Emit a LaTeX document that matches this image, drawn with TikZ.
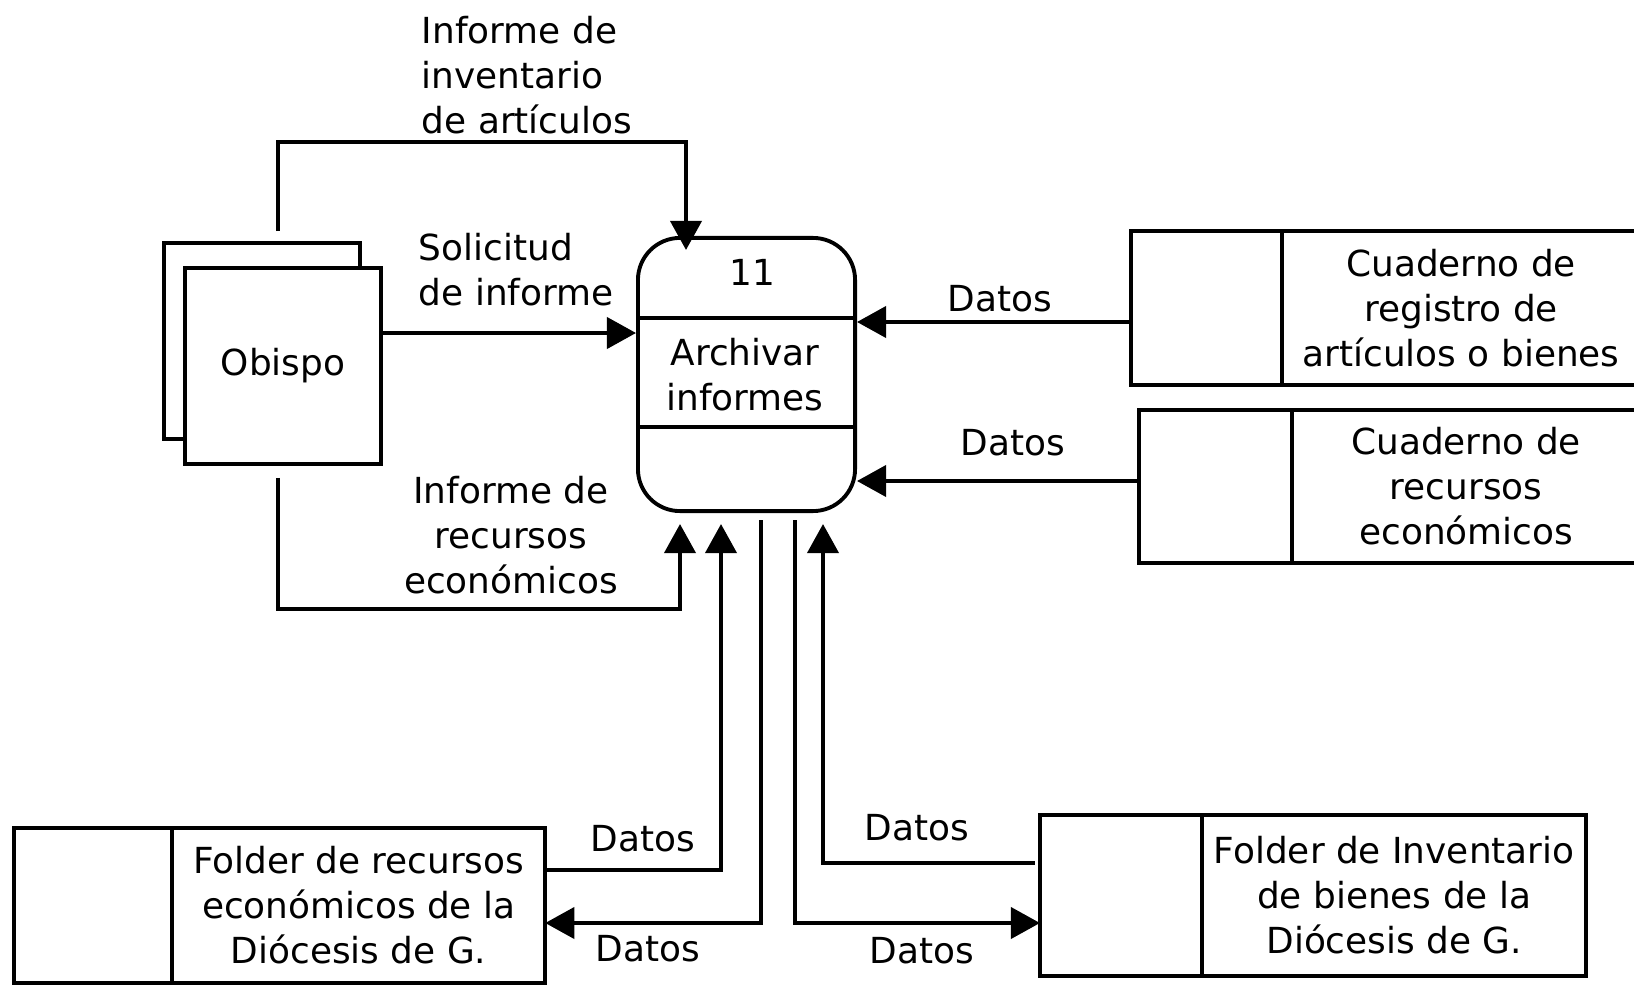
\documentclass[tikz,border=0pt]{standalone}
\usepackage{fontspec}
\setmainfont{DejaVu Sans}
\usetikzlibrary{arrows.meta, positioning, calc}
\tikzset{
  entity/.style={draw, fill=white, minimum width=1.96cm, minimum height=1.96cm},
  process/.style={draw, rounded corners=4.2mm, minimum width=2.17cm, minimum height=2.73cm},
  store/.style={draw, inner sep=0pt, outer sep=0pt, align=center},
  lbl/.style={inner sep=0pt},
  flow/.style={-{Triangle[length=2.9mm, width=3.1mm]}}
}

\begin{document}
\begin{tikzpicture}[x=0.01cm, y=-0.01cm, line width=1.1pt, font=\fontsize{10.2}{12.8}\selectfont]
    \useasboundingbox (0,0) rectangle (1634,985);
    % external entity
    \node[entity] (obispoback) at (262,341) {};
    \node[entity] (obispo) at (283,366) {Obispo};
    % process 11
    \node[process] (proc) at (746.5,374.5) {};
    \draw ($(proc.north west)+(0,82)$) -- ($(proc.north east)+(0,82)$);
    \draw ($(proc.north west)+(0,191)$) -- ($(proc.north east)+(0,191)$);
    \node (procnum) at ($(proc.north)+(5.5,36)$) {11};
    \node[align=center] (proctxt) at ($(proc.center)+(-1.5,0)$) {Archivar\\informes};
    % data stores
    \node[store, minimum width=1.51cm, minimum height=1.54cm] (cuad1id) at (1206.5,308) {};
    \node[store, minimum width=3.58cm, minimum height=1.54cm, right=0pt of cuad1id] (cuad1)
      {Cuaderno de\\registro de\\artículos o bienes};
    \node[store, minimum width=1.53cm, minimum height=1.53cm] (cuad2id) at (1215.5,486.5) {};
    \node[store, minimum width=3.48cm, minimum height=1.53cm, right=0pt of cuad2id] (cuad2)
      {Cuaderno de\\recursos\\económicos};
    \node[store, minimum width=1.58cm, minimum height=1.55cm] (folderrecid) at (93,905.5) {};
    \node[store, minimum width=3.73cm, minimum height=1.55cm, right=0pt of folderrecid] (folderrec)
      {Folder de recursos\\económicos de la\\Diócesis de G.};
    \node[store, minimum width=1.62cm, minimum height=1.61cm] (folderinvid) at (1121,895.5) {};
    \node[store, minimum width=3.84cm, minimum height=1.61cm, right=0pt of folderinvid] (folderinv)
      {Folder de Inventario\\de bienes de la\\Diócesis de G.};
    % flows from Obispo
    \draw[flow] ($(obispo.north)+(-5,-35)$) -- ++(0,-89) -| ($(proc.north)+(-60.5,14)$);
    \node[lbl, anchor=west, align=left] (lblinv) at (420,75) {Informe de\\inventario\\de artículos};
    \draw[flow] ($(obispo.east)+(0,-33)$) coordinate (sol) -- (sol -| proc.west);
    \node[lbl, anchor=west, align=left] (lblsol) at (417,269.5) {Solicitud\\de informe};
    \draw[flow] ($(obispo.south)+(-5,12)$) -- ++(0,131) -| ($(proc.south)+(-66.5,11)$);
    \node[lbl, align=center] (lblrec) at (511,535) {Informe de\\recursos\\económicos};
    % flows from the cuadernos
    \draw[flow] ($(cuad1id.west)+(0,14)$) coordinate (c1) -- (c1 -| proc.east);
    \node (dat1) at (1000,299) {Datos};
    \draw[flow] ($(cuad2id.west)+(0,-5.5)$) coordinate (c2) -- (c2 -| proc.east);
    \node (dat2) at (1013,443) {Datos};
    % flows with the folders
    \draw[flow] ($(folderrec.east)+(0,-35.5)$) -| ($(proc.south)+(-25.5,11)$);
    \node (dat3) at (643,839) {Datos};
    \draw[flow] ($(proc.south)+(14.5,7)$) |- ($(folderrec.east)+(0,17.5)$);
    \node (dat4) at (648,949) {Datos};
    \draw[flow] ($(proc.south)+(48.5,7)$) |- ($(folderinvid.west)+(0,27.5)$);
    \node (dat5) at (922,951) {Datos};
    \draw[flow] ($(folderinvid.west)+(-5,-32.5)$) -| ($(proc.south)+(76.5,11)$);
    \node (dat6) at (917,828) {Datos};
\end{tikzpicture}
\end{document}
